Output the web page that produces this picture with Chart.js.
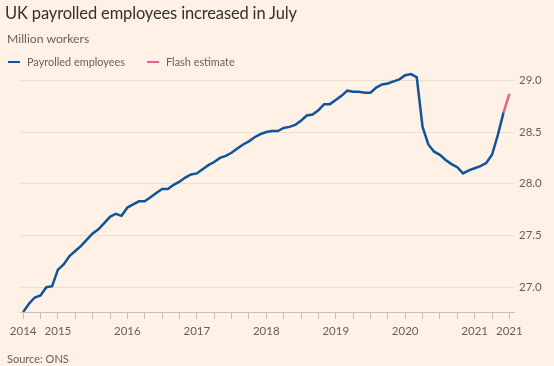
<!DOCTYPE html>
<html>
<head>
<meta charset="utf-8">
<script src="https://cdn.jsdelivr.net/npm/chart.js@4"></script>
<style>
  body { margin: 0; background: #fff1e5; font-family: Lato, sans-serif; }
  #wrap { position: relative; width: 554px; height: 366px; overflow: hidden; }
  #chart { position: absolute; left: 0; top: 0; }
  .txt { position: absolute; white-space: nowrap; }
  #title { left: 5px; top: 3px; font-size: 16.5px; letter-spacing: -0.15px; color: #33302e; }
  #sub { left: 7px; top: 31px; font-size: 12.2px; color: #66605c; }
  #legend { left: 8px; top: 55px; font-size: 10.9px; color: #66605c; }
  #legend span.key { display: inline-block; width: 12px; height: 2.5px; vertical-align: middle; margin-right: 7px; position: relative; top: -1px; }
  #source { left: 7px; top: 352px; font-size: 11px; color: #66605c; }
</style>
</head>
<body>
<div id="wrap">
  <canvas id="chart" width="554" height="366"></canvas>
  <div class="txt" id="title">UK payrolled employees increased in July</div>
  <div class="txt" id="sub">Million workers</div>
  <div class="txt" id="legend"><span class="key" style="background:#0f5499"></span>Payrolled employees<span class="key" style="background:#ea5f8e;margin-left:22px"></span>Flash estimate</div>
  <div class="txt" id="source">Source: ONS</div>
</div>
<script>
// months Jul 2014 .. Jul 2021
var months = [
  "2014-07","2014-08","2014-09","2014-10","2014-11","2014-12",
  "2015-01","2015-02","2015-03","2015-04","2015-05","2015-06","2015-07","2015-08","2015-09","2015-10","2015-11","2015-12",
  "2016-01","2016-02","2016-03","2016-04","2016-05","2016-06","2016-07","2016-08","2016-09","2016-10","2016-11","2016-12",
  "2017-01","2017-02","2017-03","2017-04","2017-05","2017-06","2017-07","2017-08","2017-09","2017-10","2017-11","2017-12",
  "2018-01","2018-02","2018-03","2018-04","2018-05","2018-06","2018-07","2018-08","2018-09","2018-10","2018-11","2018-12",
  "2019-01","2019-02","2019-03","2019-04","2019-05","2019-06","2019-07","2019-08","2019-09","2019-10","2019-11","2019-12",
  "2020-01","2020-02","2020-03","2020-04","2020-05","2020-06","2020-07","2020-08","2020-09","2020-10","2020-11","2020-12",
  "2021-01","2021-02","2021-03","2021-04","2021-05","2021-06","2021-07"
];

// payrolled employees, millions (Jul 2014 - Jun 2021)
var payrolled = [
  26.76, 26.84, 26.90, 26.92, 27.00, 27.01,
  27.17, 27.22, 27.30, 27.35, 27.40, 27.46, 27.52, 27.56, 27.62, 27.68, 27.71, 27.69,
  27.77, 27.80, 27.83, 27.83, 27.87, 27.91, 27.95, 27.95, 27.99, 28.02, 28.06, 28.09,
  28.10, 28.14, 28.18, 28.21, 28.25, 28.27, 28.30, 28.34, 28.38, 28.41, 28.45, 28.48,
  28.50, 28.51, 28.51, 28.54, 28.55, 28.57, 28.61, 28.66, 28.67, 28.71, 28.77, 28.77,
  28.81, 28.85, 28.90, 28.89, 28.89, 28.88, 28.88, 28.93, 28.96, 28.97, 28.99, 29.01,
  29.05, 29.06, 29.03, 28.55, 28.38, 28.31, 28.28, 28.23, 28.19, 28.16, 28.10, 28.13,
  28.15, 28.17, 28.20, 28.28, 28.47, 28.69
];

// flash estimate for July 2021 (joined to June)
var flashMonths = ["2021-06", "2021-07"];
var flash = [28.69, 28.87];

// x axis labels
var yearTickMonths = ["2014-07","2015-01","2016-01","2017-01","2018-01","2019-01","2020-01","2021-01","2021-07"];
var yearTickText = ["2014","2015","2016","2017","2018","2019","2020","2021","2021"];

var yTicks = [27.0, 27.5, 28.0, 28.5, 29.0];

var textColor = "#66605c";
var axisColor = "#c9bfb5";

var payData = payrolled.map(function (v, i) { return { x: i, y: v }; });
var flashData = flash.map(function (v, i) { return { x: months.indexOf(flashMonths[i]), y: v }; });

// quarterly tick marks
var quarterTicks = [];
months.forEach(function (m, i) {
  var mm = m.slice(5);
  if (mm == "01" || mm == "04" || mm == "07" || mm == "10") quarterTicks.push(i);
});

new Chart(document.getElementById("chart"), {
  type: "line",
  data: {
    datasets: [
      { label: "Payrolled employees", data: payData, borderColor: "#0f5499", borderWidth: 2.5, pointRadius: 0, tension: 0 },
      { label: "Flash estimate", data: flashData, borderColor: "#ea5f8e", borderWidth: 2.5, pointRadius: 0, tension: 0 }
    ]
  },
  options: {
    responsive: false,
    animation: false,
    layout: { padding: { left: 20, right: 0, top: 70, bottom: 26 } },
    plugins: { legend: { display: false }, tooltip: { enabled: false } },
    scales: {
      x: {
        type: "linear",
        min: -0.55,
        max: 84.8,
        afterBuildTicks: function (scale) {
          scale.ticks = quarterTicks.map(function (v) { return { value: v }; });
        },
        afterFit: function (scale) { scale.height = 28; },
        grid: { drawOnChartArea: false, drawTicks: true, tickLength: 7, color: axisColor },
        border: { display: true, color: axisColor, width: 1 },
        ticks: {
          autoSkip: false,
          maxRotation: 0,
          color: textColor,
          font: { family: "Lato", size: 11.5 },
          padding: 5,
          callback: function (v) {
            var k = yearTickMonths.indexOf(months[v]);
            return k >= 0 ? yearTickText[k] : "";
          }
        }
      },
      y: {
        position: "right",
        min: 26.76,
        max: 29.1,
        afterBuildTicks: function (scale) {
          scale.ticks = yTicks.map(function (v) { return { value: v }; });
        },
        afterFit: function (scale) { scale.width = 40; },
        grid: { drawTicks: false, color: "#ebdfd3" },
        border: { display: false },
        ticks: {
          color: textColor,
          font: { family: "Lato", size: 11.5 },
          padding: 5,
          callback: function (v) { return v.toFixed(1); }
        }
      }
    }
  }
});
</script>
</body>
</html>
